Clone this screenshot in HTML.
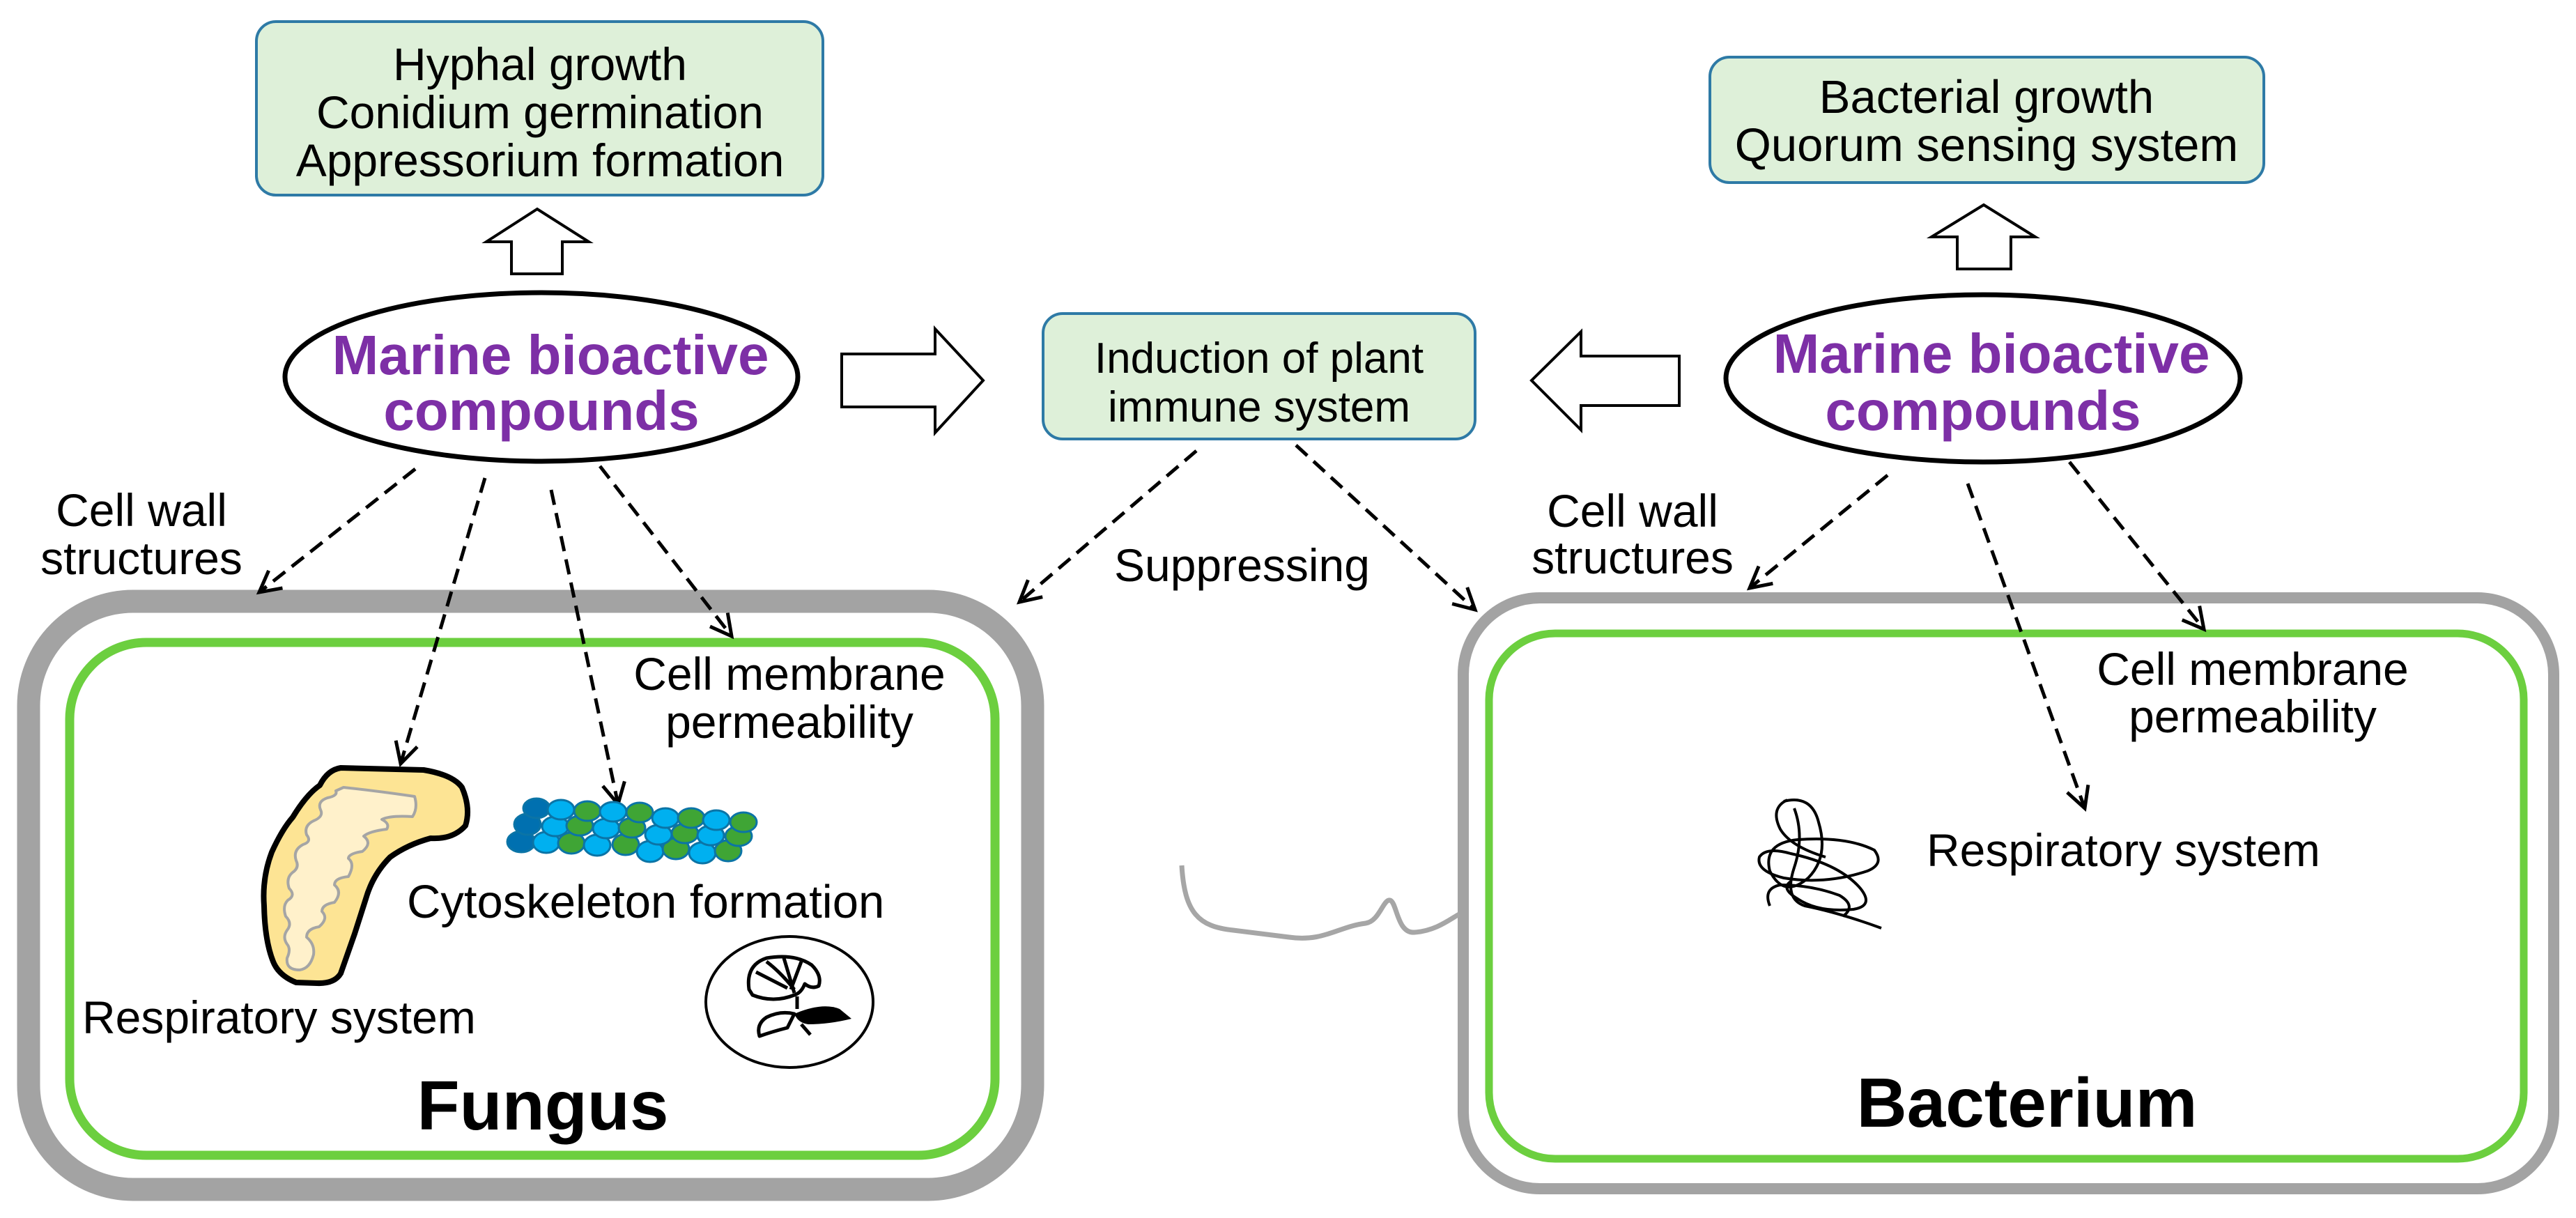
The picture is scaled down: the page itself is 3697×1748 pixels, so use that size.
<!DOCTYPE html>
<html><head><meta charset="utf-8"><style>
html,body{margin:0;padding:0;background:#fff;}
svg{display:block;}
text{font-family:"Liberation Sans",Arial,sans-serif;}
</style></head><body>
<svg width="3697" height="1748" viewBox="0 0 3697 1748" xmlns="http://www.w3.org/2000/svg">
<defs>
<marker id="ah" markerUnits="userSpaceOnUse" markerWidth="60" markerHeight="60" refX="40" refY="20" orient="auto">
<path d="M10 4 L40 20 L10 36" fill="none" stroke="#000" stroke-width="5"/>
</marker>
</defs>

<!-- Fungus cell -->
<rect x="41" y="863" width="1441" height="844" rx="150" fill="#fff" stroke="#a3a3a3" stroke-width="33"/>
<rect x="100" y="922" width="1328" height="736" rx="110" fill="#fff" stroke="#6ccf3f" stroke-width="13"/>

<!-- Bacterium cell -->
<rect x="2100" y="858" width="1565" height="848" rx="110" fill="#fff" stroke="#a3a3a3" stroke-width="16"/>
<rect x="2137" y="909" width="1485" height="754" rx="95" fill="#fff" stroke="#6ccf3f" stroke-width="11"/>

<!-- gray wavy line -->
<path d="M1696 1242 C1700 1310 1720 1330 1770 1335 L1850 1345 C1900 1352 1920 1330 1960 1325 C1980 1322 1985 1290 1995 1292 C2005 1295 2005 1340 2030 1338 C2060 1336 2080 1320 2094 1312" fill="none" stroke="#a6a6a6" stroke-width="7"/>

<!-- top boxes -->
<rect x="368" y="31" width="813" height="249" rx="28" fill="#def0d9" stroke="#2e7aa6" stroke-width="4"/>
<text font-size="66" text-anchor="middle" x="775" y="115">Hyphal growth</text>
<text font-size="66" text-anchor="middle" x="775" y="184">Conidium germination</text>
<text font-size="66" text-anchor="middle" x="775" y="253">Appressorium formation</text>

<rect x="2454" y="82" width="795" height="180" rx="28" fill="#def0d9" stroke="#2e7aa6" stroke-width="4"/>
<text font-size="67" text-anchor="middle" x="2851" y="162">Bacterial growth</text>
<text font-size="67" text-anchor="middle" x="2851" y="231">Quorum sensing system</text>

<rect x="1497" y="450" width="620" height="180" rx="28" fill="#def0d9" stroke="#2e7aa6" stroke-width="4"/>
<text font-size="62" text-anchor="middle" x="1807" y="535">Induction of plant</text>
<text font-size="62" text-anchor="middle" x="1807" y="605">immune system</text>

<!-- hollow arrows -->
<path d="M734 393 L734 347 L698 347 L771 300 L845 347 L807 347 L807 393 Z" fill="#fff" stroke="#000" stroke-width="4"/>
<path d="M2809 386 L2809 340 L2772 340 L2847 294 L2921 340 L2886 340 L2886 386 Z" fill="#fff" stroke="#000" stroke-width="4"/>
<path d="M1208 508 L1342 508 L1342 472 L1411 546 L1342 621 L1342 584 L1208 584 Z" fill="#fff" stroke="#000" stroke-width="4"/>
<path d="M2410 511 L2269 511 L2269 476 L2198 546 L2269 617 L2269 582 L2410 582 Z" fill="#fff" stroke="#000" stroke-width="4"/>

<!-- ellipses -->
<ellipse cx="777" cy="541" rx="368" ry="121" fill="#fff" stroke="#000" stroke-width="7"/>
<text font-size="80" font-weight="bold" fill="#7d2fa6" text-anchor="middle" x="790" y="537">Marine bioactive</text>
<text font-size="80" font-weight="bold" fill="#7d2fa6" text-anchor="middle" x="777" y="617">compounds</text>

<ellipse cx="2846" cy="543" rx="369" ry="120" fill="#fff" stroke="#000" stroke-width="7"/>
<text font-size="80" font-weight="bold" fill="#7d2fa6" text-anchor="middle" x="2858" y="535">Marine bioactive</text>
<text font-size="80" font-weight="bold" fill="#7d2fa6" text-anchor="middle" x="2846" y="617">compounds</text>

<!-- dashed arrows -->
<g fill="none" stroke="#000" stroke-width="5" stroke-dasharray="22 12" marker-end="url(#ah)">
<line x1="596" y1="673" x2="372" y2="850"/>
<line x1="696" y1="686" x2="575" y2="1096"/>
<line x1="791" y1="703" x2="887" y2="1154"/>
<line x1="861" y1="669" x2="1050" y2="913"/>
<line x1="1717" y1="647" x2="1463" y2="864"/>
<line x1="1860" y1="639" x2="2117" y2="875"/>
<line x1="2709" y1="682" x2="2511" y2="844"/>
<line x1="2824" y1="694" x2="2992" y2="1160"/>
<line x1="2970" y1="663" x2="3163" y2="903"/>
</g>

<!-- labels -->
<text font-size="66" text-anchor="middle" x="203" y="755">Cell wall</text>
<text font-size="66" text-anchor="middle" x="203" y="824">structures</text>
<text font-size="66" text-anchor="middle" x="2343" y="756">Cell wall</text>
<text font-size="66" text-anchor="middle" x="2343" y="823">structures</text>
<text font-size="66" x="1599" y="834">Suppressing</text>
<text font-size="66" text-anchor="middle" x="1133" y="990">Cell membrane</text>
<text font-size="66" text-anchor="middle" x="1133" y="1059">permeability</text>
<text font-size="66" text-anchor="middle" x="3233" y="983">Cell membrane</text>
<text font-size="66" text-anchor="middle" x="3233" y="1051">permeability</text>
<text font-size="67" x="584" y="1317">Cytoskeleton formation</text>
<text font-size="66" x="118" y="1483">Respiratory system</text>
<text font-size="66" x="2765" y="1243">Respiratory system</text>
<text font-size="100" font-weight="bold" text-anchor="middle" x="779" y="1621">Fungus</text>
<text font-size="100" font-weight="bold" text-anchor="middle" x="2909" y="1617">Bacterium</text>

<!-- mitochondrion -->
<path d="M489 1102 L608 1105 Q650 1112 663 1130 Q676 1160 668 1185 Q650 1205 618 1203 Q585 1212 560 1230 Q535 1255 525 1290 L509 1340 L489 1397 Q480 1412 455 1411 L425 1410 Q400 1400 392 1380 Q380 1350 379 1300 Q376 1260 390 1223 Q405 1190 420 1173 Q440 1140 459 1127 Q470 1105 489 1102 Z" fill="#fde494" stroke="#000" stroke-width="8" stroke-linejoin="round"/>
<path d="M493 1130 Q540 1135 595 1143 Q600 1160 592 1172 Q560 1170 548 1176 Q560 1182 555 1190 Q530 1193 522 1200 Q535 1210 520 1222 Q500 1225 500 1232 Q510 1240 500 1258 Q480 1260 480 1270 Q492 1280 480 1295 Q462 1298 462 1308 Q472 1318 458 1330 Q440 1333 440 1345 Q452 1355 450 1370 Q445 1390 430 1392 Q410 1392 412 1375 Q418 1362 412 1355 Q405 1345 412 1335 Q420 1325 410 1315 Q405 1300 413 1292 Q425 1285 415 1275 Q410 1260 420 1252 Q430 1245 425 1235 Q420 1220 435 1212 Q448 1208 440 1198 Q436 1185 450 1178 Q465 1172 460 1162 Q455 1150 470 1145 Q485 1142 482 1135 Z" fill="#fff1cb" stroke="#a5a5a5" stroke-width="4" stroke-linejoin="round"/>

<!-- microtubule -->
<g stroke="#0b74a6" stroke-width="3">
<ellipse cx="748" cy="1208" rx="20" ry="15" fill="#0070b0"/>
<ellipse cx="784" cy="1209" rx="19" ry="15" fill="#00b0f0"/>
<ellipse cx="820" cy="1210" rx="19" ry="15" fill="#3fa535"/>
<ellipse cx="857" cy="1213" rx="19" ry="15" fill="#00b0f0"/>
<ellipse cx="898" cy="1212" rx="19" ry="15" fill="#3fa535"/>
<ellipse cx="933" cy="1222" rx="19" ry="15" fill="#00b0f0"/>
<ellipse cx="970" cy="1218" rx="19" ry="15" fill="#3fa535"/>
<ellipse cx="1008" cy="1224" rx="19" ry="15" fill="#00b0f0"/>
<ellipse cx="1045" cy="1221" rx="19" ry="15" fill="#3fa535"/>
<ellipse cx="757" cy="1183" rx="19" ry="15" fill="#0070b0"/>
<ellipse cx="797" cy="1186" rx="19" ry="14" fill="#00b0f0"/>
<ellipse cx="832" cy="1185" rx="19" ry="14" fill="#3fa535"/>
<ellipse cx="870" cy="1189" rx="19" ry="14" fill="#00b0f0"/>
<ellipse cx="907" cy="1188" rx="19" ry="14" fill="#3fa535"/>
<ellipse cx="945" cy="1198" rx="19" ry="14" fill="#00b0f0"/>
<ellipse cx="983" cy="1196" rx="19" ry="14" fill="#3fa535"/>
<ellipse cx="1020" cy="1199" rx="19" ry="14" fill="#00b0f0"/>
<ellipse cx="1060" cy="1200" rx="19" ry="14" fill="#3fa535"/>
<ellipse cx="770" cy="1160" rx="19" ry="14" fill="#0070b0"/>
<ellipse cx="805" cy="1162" rx="19" ry="14" fill="#00b0f0"/>
<ellipse cx="843" cy="1164" rx="19" ry="14" fill="#3fa535"/>
<ellipse cx="880" cy="1165" rx="19" ry="14" fill="#00b0f0"/>
<ellipse cx="918" cy="1166" rx="19" ry="14" fill="#3fa535"/>
<ellipse cx="955" cy="1174" rx="19" ry="14" fill="#00b0f0"/>
<ellipse cx="992" cy="1174" rx="19" ry="14" fill="#3fa535"/>
<ellipse cx="1028" cy="1177" rx="19" ry="14" fill="#00b0f0"/>
<ellipse cx="1067" cy="1180" rx="19" ry="14" fill="#3fa535"/>
</g>

<!-- plant icon -->
<ellipse cx="1133" cy="1438" rx="120" ry="94" fill="#fff" stroke="#000" stroke-width="4"/>
<g fill="none" stroke="#000" stroke-width="5" stroke-linejoin="round">
<path d="M1075 1420 Q1070 1385 1100 1375 Q1140 1368 1165 1385 Q1180 1400 1175 1415 Q1165 1420 1155 1412 Q1150 1425 1140 1428 Q1110 1440 1080 1428 Z"/>
<path d="M1085 1395 L1130 1418 M1100 1380 Q1120 1395 1140 1420 M1125 1375 L1140 1425 M1150 1380 L1135 1420"/>
<path d="M1144 1430 L1144 1448"/>
<path d="M1090 1487 Q1085 1470 1100 1460 Q1120 1450 1140 1455 L1130 1475 Q1110 1480 1090 1487 Z"/>
<path d="M1150 1470 L1163 1485"/>
</g>
<path d="M1140 1455 Q1180 1438 1205 1448 L1222 1462 Q1190 1470 1160 1470 Q1145 1468 1140 1455 Z" fill="#000"/>

<!-- bacterial DNA scribble -->
<g fill="none" stroke="#000" stroke-width="4">
<path d="M2560 1150 Q2600 1140 2610 1180 Q2625 1230 2595 1260 Q2560 1290 2540 1250 Q2530 1210 2580 1205 Q2650 1200 2690 1220 Q2705 1240 2680 1250 Q2620 1270 2560 1260 Q2520 1250 2525 1230 Q2535 1215 2570 1225 Q2640 1240 2670 1275 Q2690 1300 2660 1305 Q2610 1310 2580 1290 Q2555 1275 2570 1265"/>
<path d="M2575 1160 Q2590 1200 2575 1245 Q2560 1290 2590 1300 Q2640 1310 2700 1332"/>
<path d="M2540 1300 Q2530 1275 2555 1270 Q2600 1270 2640 1285 Q2665 1300 2645 1315"/>
<path d="M2565 1148 Q2540 1160 2555 1190 Q2570 1215 2620 1230"/>
</g>
</svg>
</body></html>
